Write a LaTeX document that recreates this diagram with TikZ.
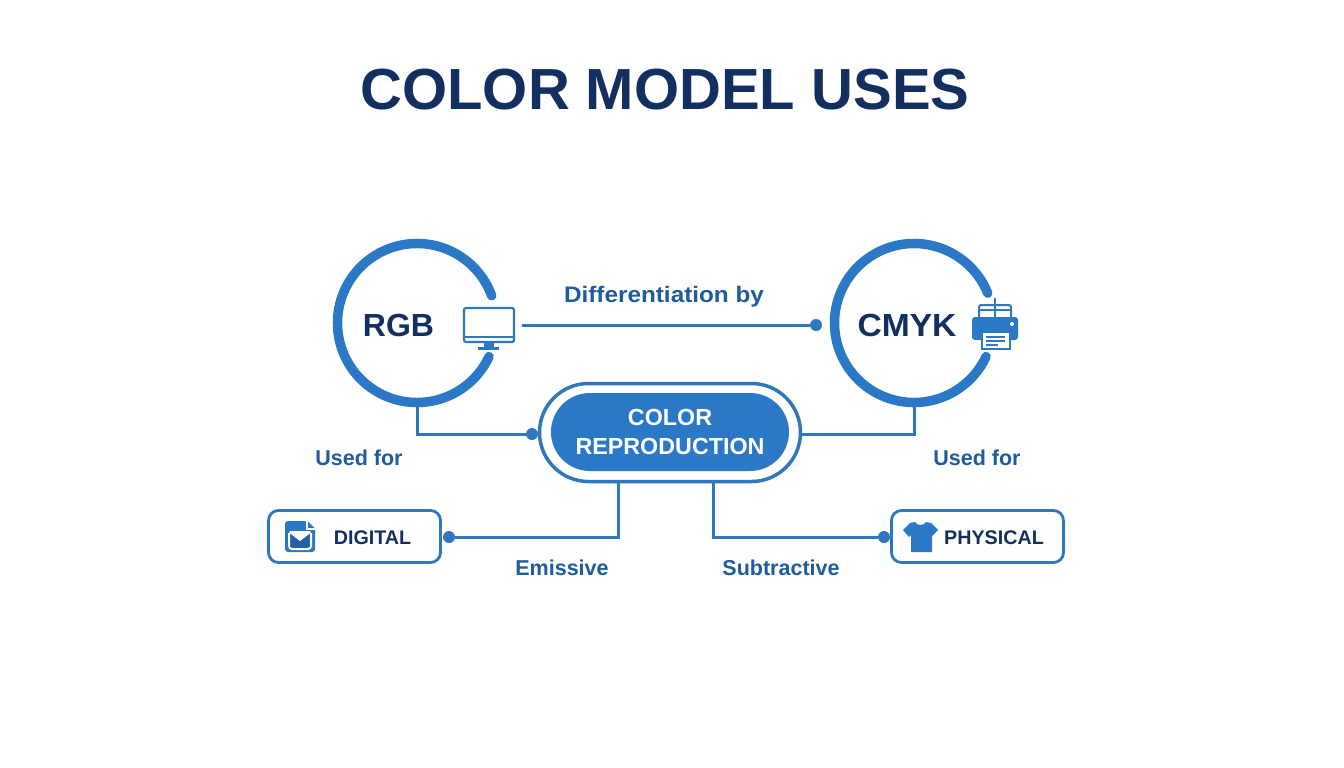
\documentclass[tikz,border=0pt]{standalone}
\usepackage{fontspec}
\setmainfont{Liberation Sans}
\usetikzlibrary{positioning}
\definecolor{ringblue}{HTML}{2A78C6}
\definecolor{linkblue}{HTML}{2F78BE}
\definecolor{labelblue}{HTML}{1F5C9E}
\definecolor{navy}{HTML}{122F60}
\tikzset{
  ring/.style={circle,minimum size=159pt,inner sep=0pt,outer sep=0pt},
  ringline/.style={line width=9.5pt,ringblue,line cap=round},
  link/.style={line width=3pt,linkblue},
  dotnode/.style={circle,fill=linkblue,minimum size=12pt,inner sep=0pt},
  usebox/.style={draw=linkblue,line width=2.8pt,rounded corners=10pt,minimum width=172pt,minimum height=52pt,fill=white},
  tag/.style={font=\bfseries\fontsize{21.5}{24}\selectfont,labelblue},
  boxtext/.style={font=\bfseries\fontsize{19.7}{22}\selectfont,navy},
  ringtext/.style={font=\bfseries\fontsize{32}{36}\selectfont,navy}
}
\begin{document}
\begin{tikzpicture}[x=1pt,y=-1pt]
    \useasboundingbox (0,0) rectangle (1344,768);
    \fill[white] (0,0) rectangle (1344,768);

    \node[font=\bfseries\fontsize{58}{64}\selectfont,navy] (title) at (665,90) {COLOR MODEL USES};

    % rings
    \node[ring] (rgb) at (417,323) {};
    \node[ring] (cmyk) at (914,323) {};
    \draw[ringline] (rgb.20) arc[start angle=20,end angle=335,radius=79.5pt];
    \draw[ringline] (cmyk.22) arc[start angle=22,end angle=335,radius=79.5pt];
    \node[ringtext] (rgbtext) at (398.5,325) {RGB};
    \node[ringtext] (cmyktext) at (907,325) {\scalebox{1.05}[1]{CMYK}};

    % center pill
    \node[draw=linkblue,line width=3.5pt,rounded corners=49pt,minimum width=261pt,minimum height=98pt,fill=white] (pill) at (670,432.5) {};
    \node[fill=ringblue,rounded corners=39pt,minimum width=238pt,minimum height=78pt,text=white,align=center,font=\bfseries\fontsize{23.3}{29}\selectfont] (repro) at (670,432) {COLOR\\REPRODUCTION};

    % boxes
    \node[usebox] (digital) at (354.5,536.5) {};
    \node[usebox] (physical) at (977.5,536.5) {};
    \node[boxtext] (digitaltext) at (372.5,537.5) {DIGITAL};
    \node[boxtext] (physicaltext) at (994,537.5) {PHYSICAL};

    % dots
    \node[dotnode] (rgbdot) at (532,434) {};
    \node[dotnode] (cmykdot) at (816,325) {};
    \node[dotnode] (digitaldot) at (449,537) {};
    \node[dotnode] (physicaldot) at (884,537) {};
    \coordinate (monitorend) at (522,325);
    \coordinate (pillright) at (802,434);
    \coordinate (emitstart) at (618,481);
    \coordinate (substart) at (713,481);

    % connectors
    \draw[link] (monitorend) -- (cmykdot);
    \draw[link] (rgb.south) ++(0,2) |- (rgbdot);
    \draw[link] (cmyk.south) ++(0,2) |- (pillright);
    \draw[link] (emitstart) |- (digitaldot);
    \draw[link] (substart) |- (physicaldot);

    % labels
    \node[tag,font=\bfseries\fontsize{22.5}{24}\selectfont] (difflabel) at (664,296.5) {\scalebox{1.08}[1]{Differentiation by}};
    \node[tag] (usedleft) at (359,457.5) {Used for};
    \node[tag] (usedright) at (977,457.5) {Used for};
    \node[tag] (emitlabel) at (562,567.5) {Emissive};
    \node[tag] (sublabel) at (781,567.5) {Subtractive};

    % monitor
    \draw[linkblue,line width=2.2pt,rounded corners=2pt] (464,308) rectangle (514,342);
    \draw[linkblue,line width=1.6pt] (464,337) -- (514,337);
    \fill[linkblue] (484,342) rectangle (494,347);
    \fill[linkblue] (478,346.5) rectangle (499,349.5);

    % printer
    \draw[linkblue,line width=2pt,rounded corners=2pt,fill=white] (979,318) -- (979,305) -- (1011,305) -- (1011,318);
    \draw[linkblue,line width=2pt] (980,310) -- (1010,310);
    \draw[linkblue,line width=2.6pt] (995,298) -- (995,317);
    \fill[ringblue,rounded corners=3pt] (972,317) rectangle (1018,340);
    \fill[white] (1012,324) circle (2pt);
    \draw[linkblue,line width=2pt,fill=white] (982,332) rectangle (1010,348.5);
    \draw[linkblue,line width=1.5pt] (986,337) -- (1005,337) (986,341) -- (1005,341) (986,345) -- (998,345);

    % mail icon
    \fill[ringblue,rounded corners=3pt] (285,521) rectangle (315,552);
    \fill[white] (307,520) -- (316,529) -- (316,520) -- cycle;
    \draw[white,line width=1.5pt] (307,521) -- (307,529) -- (315,529);
    \draw[white,line width=2pt,rounded corners=3pt,fill=ringblue!70!navy] (289,533) -- (289,549) -- (311,549) -- (311,533);
    \fill[white] (289.5,533) -- (300,541) -- (310.5,533) -- (310.5,531) -- (289.5,531) -- cycle;

    % shirt
    \fill[ringblue,line join=round] (915,522) .. controls (917,526) and (924,526) .. (926,522) -- (931,523) -- (938,530) -- (931,537) -- (932,535) -- (932,552) -- (911,552) -- (911,535) -- (909,537) -- (903,530) -- (910,523) -- cycle;
\end{tikzpicture}
\end{document}
